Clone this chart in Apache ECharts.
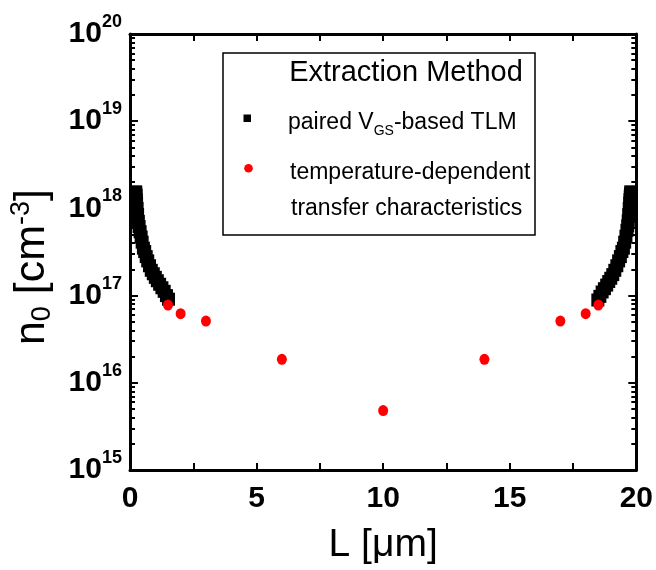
<!DOCTYPE html>
<html lang="en">
<head>
    <meta charset="UTF-8"/>
    <script src="https://cdn.jsdelivr.net/npm/echarts@6/dist/echarts.min.js"></script>
    <title>n0 vs L</title>
    <style>
        html, body { margin: 0; padding: 0; background: #fff; }
    </style>
</head>
<body>
<div id="main" style="width: 656px;height:570px;"></div>
<script type="text/javascript">
    // paired VGS-based TLM, left branch (L in um, n0 in cm^-3)
    var tlmLeftL = [0.22, 0.23, 0.24, 0.25, 0.26, 0.28, 0.30, 0.33, 0.36, 0.40, 0.44, 0.48, 0.53,
        0.58, 0.64, 0.70, 0.77, 0.84, 0.92, 1.00, 1.08, 1.17, 1.26, 1.35, 1.44, 1.52];
    var tlmLeftN = [1.55e18, 1.51e18, 1.41e18, 1.26e18, 1.15e18, 1.0e18, 8.5e17, 7.1e17, 6.2e17, 5.4e17,
        4.7e17, 4.1e17, 3.5e17, 3.2e17, 2.8e17, 2.5e17, 2.2e17, 1.95e17, 1.78e17, 1.62e17, 1.48e17,
        1.35e17, 1.23e17, 1.12e17, 1.0e17, 9.1e16];
    // right branch
    var tlmRightL = [19.78, 19.77, 19.76, 19.75, 19.74, 19.72, 19.70, 19.68, 19.66, 19.63, 19.59, 19.54,
        19.49, 19.43, 19.37, 19.30, 19.23, 19.15, 19.07, 18.99, 18.91, 18.83, 18.74, 18.65, 18.56, 18.48];
    var tlmRightN = [1.55e18, 1.48e18, 1.38e18, 1.26e18, 1.15e18, 1.0e18, 8.5e17, 7.2e17, 6.3e17, 5.6e17,
        4.8e17, 4.1e17, 3.5e17, 3.2e17, 2.8e17, 2.5e17, 2.2e17, 1.95e17, 1.74e17, 1.58e17, 1.45e17,
        1.32e17, 1.2e17, 1.1e17, 9.8e16, 8.9e16];
    // temperature-dependent transfer characteristics
    var tempL = [1.5, 2, 3, 6, 10, 14, 17, 18, 18.5];
    var tempN = [7.8e16, 6.2e16, 5.1e16, 1.86e16, 4.8e15, 1.86e16, 5.1e16, 6.2e16, 7.8e16];

    var yMajorTicks = [1e15, 1e16, 1e17, 1e18, 1e19, 1e20];
    var xLabelTicks = [0, 5, 10, 15, 20];

    var yMinorTicks = [];
    for (var d = 0; d < yMajorTicks.length - 1; d++) {
        for (var m = 2; m <= 9; m++) {
            yMinorTicks.push(m * yMajorTicks[d]);
        }
    }

    function pairs(xs, ys) {
        var out = [];
        for (var i = 0; i < xs.length; i++) {
            out.push([xs[i], ys[i]]);
        }
        return out;
    }

    var narrow = '"Liberation Sans Narrow", "Arial Narrow", "Liberation Sans", Arial, sans-serif';
    var sans = '"Liberation Sans", Arial, sans-serif';
    var lineStyle = {color: '#000', width: 3};

    var myChart = echarts.init(document.getElementById('main'));

    function logAxis(pos, minor, withLabels) {
        var ax = {
            type: 'log',
            logBase: 10,
            position: pos,
            min: 1e15,
            max: 1e20,
            splitNumber: 5,
            axisLine: {show: !minor, onZero: false, lineStyle: lineStyle},
            axisTick: {
                show: true,
                inside: true,
                length: minor ? 5 : 8,
                customValues: minor ? yMinorTicks : yMajorTicks,
                lineStyle: {color: '#000', width: 2}
            },
            axisLabel: {show: false},
            splitLine: {show: false}
        };
        if (withLabels) {
            ax.axisLabel = {
                show: true,
                margin: 8,
                customValues: yMajorTicks,
                formatter: function (v) {
                    return '{b|10}{s|' + Math.round(Math.log10(v)) + '}';
                },
                rich: {
                    b: {fontSize: 30, fontWeight: 'bold', fontFamily: narrow, color: '#000', lineHeight: 42},
                    s: {fontSize: 18, fontWeight: 'bold', fontFamily: narrow, color: '#000', verticalAlign: 'top', lineHeight: 18}
                }
            };
            ax.name = '{n|n}{sub|0}{n| [cm}{sup|-3}{n|]}';
            ax.nameLocation = 'middle';
            ax.nameRotate = 90;
            ax.nameGap = 74;
            ax.nameTextStyle = {
                padding: [0, 30, 0, 0],
                rich: {
                    n: {fontSize: 43, fontFamily: sans, color: '#000', lineHeight: 48},
                    sub: {fontSize: 27, fontFamily: sans, color: '#000', verticalAlign: 'bottom', lineHeight: 27},
                    sup: {fontSize: 27, fontFamily: sans, color: '#000', verticalAlign: 'top', lineHeight: 27}
                }
            };
        }
        return ax;
    }

    function linAxis(pos, withLabels) {
        var ax = {
            type: 'value',
            position: pos,
            min: 0,
            max: 20,
            interval: 2.5,
            axisLine: {show: true, onZero: false, lineStyle: lineStyle},
            axisTick: {show: true, inside: true, length: 7, lineStyle: {color: '#000', width: 2}},
            axisLabel: {show: false},
            splitLine: {show: false}
        };
        if (withLabels) {
            ax.axisLabel = {
                show: true,
                margin: 14,
                customValues: xLabelTicks,
                fontSize: 30,
                fontWeight: 'bold',
                fontFamily: narrow,
                color: '#000'
            };
            ax.name = 'L [μm]';
            ax.nameLocation = 'middle';
            ax.nameGap = 56;
            ax.nameTextStyle = {fontSize: 39, fontFamily: sans, color: '#000'};
        }
        return ax;
    }

    var option = {
        animation: false,
        backgroundColor: '#fff',
        grid: {left: 130, top: 34, right: 19, bottom: 98, containLabel: false},
        xAxis: [linAxis('bottom', true), linAxis('top', false)],
        yAxis: [
            logAxis('left', false, true),
            logAxis('left', true, false),
            logAxis('right', false, false),
            logAxis('right', true, false)
        ],
        series: [
            {
                name: 'paired VGS-based TLM',
                type: 'scatter',
                symbol: 'rect',
                symbolSize: 13,
                itemStyle: {color: '#000', opacity: 1},
                data: pairs(tlmLeftL, tlmLeftN)
            },
            {
                name: 'paired VGS-based TLM',
                type: 'scatter',
                symbol: 'rect',
                symbolSize: 13,
                itemStyle: {color: '#000', opacity: 1},
                data: pairs(tlmRightL, tlmRightN)
            },
            {
                name: 'temperature-dependent transfer characteristics',
                type: 'scatter',
                symbol: 'circle',
                symbolSize: [10, 11],
                itemStyle: {color: '#ff0000', opacity: 1},
                data: pairs(tempL, tempN)
            }
        ],
        graphic: [
            {
                type: 'rect',
                shape: {x: 223, y: 53, width: 312, height: 182},
                style: {fill: '#fff', stroke: '#000', lineWidth: 1.5}
            },
            {
                type: 'text',
                x: 406, y: 73,
                style: {text: 'Extraction Method', font: '29px ' + sans, fill: '#000', align: 'center', verticalAlign: 'middle'}
            },
            {
                type: 'rect',
                shape: {x: 243.5, y: 114.5, width: 7.5, height: 7.5},
                style: {fill: '#000'}
            },
            {
                type: 'text',
                x: 288, y: 123,
                style: {
                    text: '{a|paired V}{s|GS}{a|-based TLM}',
                    fill: '#000',
                    verticalAlign: 'middle',
                    rich: {
                        a: {fontSize: 23, fontFamily: sans, lineHeight: 30, verticalAlign: 'middle'},
                        s: {fontSize: 14, fontFamily: sans, lineHeight: 14, verticalAlign: 'bottom'}
                    }
                }
            },
            {
                type: 'circle',
                shape: {cx: 248.5, cy: 168.3, r: 4.3},
                style: {fill: '#ff0000'}
            },
            {
                type: 'text',
                x: 290, y: 173,
                style: {text: 'temperature-dependent', font: '23px ' + sans, fill: '#000', verticalAlign: 'middle'}
            },
            {
                type: 'text',
                x: 291, y: 209,
                style: {text: 'transfer characteristics', font: '23px ' + sans, fill: '#000', verticalAlign: 'middle'}
            }
        ]
    };

    myChart.setOption(option);
</script>
</body>
</html>
